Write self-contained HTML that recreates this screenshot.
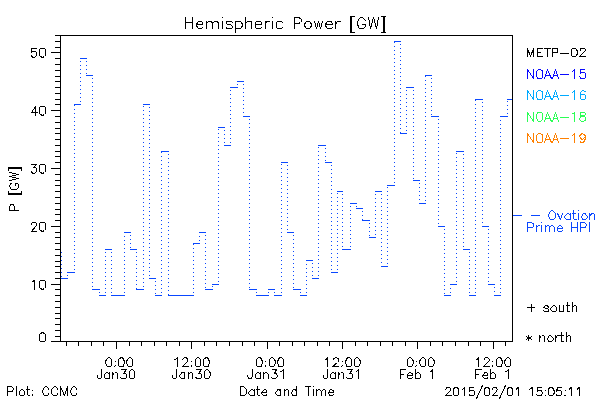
<!DOCTYPE html>
<html lang="en">
<head>
<meta charset="utf-8">
<title>Hemispheric Power [GW]</title>
<style>
html,body{margin:0;padding:0;background:#fff;}
body{width:600px;height:400px;overflow:hidden;font-family:"Liberation Sans",sans-serif;}
svg{display:block;}
.s{fill:none;stroke-width:1;stroke-linecap:butt;stroke-linejoin:miter;shape-rendering:crispEdges;}
.t{fill:none;stroke-width:1;stroke-linecap:square;stroke-linejoin:round;shape-rendering:crispEdges;}
</style>
</head>
<body>
<svg width="600" height="400" viewBox="0 0 600 400">
<rect width="600" height="400" fill="#ffffff"/>
<g id="series" class="s" stroke="#0a48ff"><title>Ovation Prime HPI hemispheric power, hourly steps</title>
<path stroke-dasharray="1 3" d="M61.5 252V278M67.5 276V273M74.5 270V105M80.5 102V59M86.5 61V75M92.5 78V289M99.5 292V295M105.5 293V250M111.5 252V295M124.5 293V233M130.5 235V249M136.5 252V289M143.5 287V105M149.5 107V278M155.5 281V295M161.5 293V152M168.5 154V295M193.5 293V244M199.5 241V233M205.5 235V289M212.5 287V285M218.5 282V128M224.5 130V145M230.5 143V88M237.5 85V82M243.5 84V116M249.5 119V289M256.5 292V295M268.5 293V290M274.5 292V295M281.5 293V163M287.5 165V232M293.5 235V289M300.5 292V295M306.5 293V261M312.5 263V278M318.5 276V146M325.5 148V162M331.5 165V272M337.5 270V192M342.5 194V249M350.5 247V204M356.5 206V208M362.5 211V220M369.5 223V237M375.5 235V192M381.5 194V266M387.5 264V186M394.5 183V42M400.5 44V133M406.5 131V88M413.5 90V180M419.5 183V203M425.5 201V76M431.5 78V116M438.5 119V226M444.5 229V295M450.5 293V285M456.5 282V152M463.5 154V249M469.5 252V295M475.5 293V100M482.5 102V226M488.5 229V284M494.5 287V295M500.5 293V117M507.5 114V100"/>
<path d="M61 278.5H68M67 272.5H75M74 104.5H81M80 58.5H87M86 75.5H93M92 289.5H100M99 295.5H106M105 249.5H112M111 295.5H118M117 295.5H125M124 232.5H131M130 249.5H137M136 289.5H144M143 104.5H150M149 278.5H156M155 295.5H162M161 151.5H169M168 295.5H175M174 295.5H181M180 295.5H188M187 295.5H194M193 243.5H200M199 232.5H206M205 289.5H213M212 284.5H219M218 127.5H225M224 145.5H231M230 87.5H238M237 81.5H244M243 116.5H250M249 289.5H257M256 295.5H263M262 295.5H269M268 289.5H275M274 295.5H282M281 162.5H288M287 232.5H294M293 289.5H301M300 295.5H307M306 260.5H313M312 278.5H319M318 145.5H326M325 162.5H332M331 272.5H338M337 191.5H343M342 249.5H351M350 203.5H357M356 208.5H363M362 220.5H370M369 237.5H376M375 191.5H382M381 266.5H388M387 185.5H395M394 41.5H401M400 133.5H407M406 87.5H414M413 180.5H420M419 203.5H426M425 75.5H432M431 116.5H439M438 226.5H445M444 295.5H451M450 284.5H457M456 151.5H464M463 249.5H470M469 295.5H476M475 99.5H483M482 226.5H489M488 284.5H495M494 295.5H501M500 116.5H508M507 99.5H513"/>
<path d="M513 215.5H522"/>
</g>
<g id="axes" class="s" stroke="#000"><path d="M51 341.5H513M60.5 35V342M55 35.5H513M512.5 35V342M55 336.5H60M55 330.5H60M55 324.5H60M55 318.5H60M55 313.5H60M55 307.5H60M55 301.5H60M55 295.5H60M55 289.5H60M51 284.5H60M55 278.5H60M55 272.5H60M55 266.5H60M55 261.5H60M55 255.5H60M55 249.5H60M55 243.5H60M55 237.5H60M55 232.5H60M51 226.5H60M55 220.5H60M55 214.5H60M55 209.5H60M55 203.5H60M55 197.5H60M55 191.5H60M55 185.5H60M55 180.5H60M55 174.5H60M51 168.5H60M55 162.5H60M55 156.5H60M55 151.5H60M55 145.5H60M55 139.5H60M55 133.5H60M55 128.5H60M55 122.5H60M55 116.5H60M51 110.5H60M55 104.5H60M55 99.5H60M55 93.5H60M55 87.5H60M55 81.5H60M55 76.5H60M55 70.5H60M55 64.5H60M55 58.5H60M51 52.5H60M55 47.5H60M55 41.5H60M66.5 342V346M78.5 342V346M91.5 342V346M103.5 342V346M116.5 342V349M129.5 342V346M141.5 342V346M154.5 342V346M166.5 342V346M179.5 342V346M191.5 342V349M204.5 342V346M216.5 342V346M229.5 342V346M242.5 342V346M254.5 342V346M267.5 342V349M279.5 342V346M292.5 342V346M304.5 342V346M317.5 342V346M329.5 342V346M342.5 342V349M355.5 342V346M367.5 342V346M380.5 342V346M392.5 342V346M405.5 342V346M417.5 342V349M430.5 342V346M442.5 342V346M455.5 342V346M468.5 342V346M480.5 342V346M493.5 342V349M505.5 342V346"/></g>
<g id="labels" class="t">
<g stroke="#000"><title>Hemispheric Power [GW]</title><path d="M185.5 17.5 185.5 28.5M192.5 17.5 192.5 28.5M185.5 22.5 192.5 22.5M196.5 24.5 202.5 24.5 202.5 23.5 202.5 22.5 201.5 21.5 200.5 21.5 199.5 21.5 198.5 21.5 197.5 22.5 196.5 24.5 196.5 25.5 197.5 27.5 198.5 28.5 199.5 28.5 200.5 28.5 201.5 28.5 202.5 27.5M206.5 21.5 206.5 28.5M206.5 23.5 208.5 21.5 209.5 21.5 210.5 21.5 211.5 21.5 212.5 23.5 212.5 28.5M212.5 23.5 214.5 21.5 215.5 21.5 216.5 21.5 217.5 21.5 218.5 23.5 218.5 28.5M222.5 17.5 222.51 17.5M222.5 21.5 222.5 28.5M232.5 22.5 231.5 21.5 229.5 21.5 228.5 21.5 226.5 21.5 226.5 22.5 226.5 23.5 227.5 24.5 230.5 24.5 231.5 25.5 232.5 26.5 232.5 27.5 231.5 28.5 229.5 28.5 228.5 28.5 226.5 28.5 226.5 27.5M235.5 21.5 235.5 32.5M235.5 22.5 236.5 21.5 237.5 21.5 239.5 21.5 240.5 21.5 241.5 22.5 242.5 24.5 242.5 25.5 241.5 27.5 240.5 28.5 239.5 28.5 237.5 28.5 236.5 28.5 235.5 27.5M245.5 17.5 245.5 28.5M245.5 23.5 247.5 21.5 248.5 21.5 250.5 21.5 251.5 21.5 251.5 23.5 251.5 28.5M255.5 24.5 261.5 24.5 261.5 23.5 261.5 22.5 260.5 21.5 259.5 21.5 258.5 21.5 256.5 21.5 255.5 22.5 255.5 24.5 255.5 25.5 255.5 27.5 256.5 28.5 258.5 28.5 259.5 28.5 260.5 28.5 261.5 27.5M265.5 21.5 265.5 28.5M265.5 24.5 265.5 22.5 267.5 21.5 268.5 21.5 269.5 21.5M272.5 17.5 272.51 17.5M272.5 21.5 272.5 28.5M282.5 22.5 281.5 21.5 280.5 21.5 278.5 21.5 277.5 21.5 276.5 22.5 276.5 24.5 276.5 25.5 276.5 27.5 277.5 28.5 278.5 28.5 280.5 28.5 281.5 28.5 282.5 27.5M294.5 17.5 294.5 28.5M294.5 17.5 298.5 17.5 300.5 18.5 301.5 19.5 301.5 21.5 300.5 22.5 298.5 23.5 294.5 23.5M307.5 21.5 306.5 21.5 305.5 22.5 304.5 24.5 304.5 25.5 305.5 27.5 306.5 28.5 307.5 28.5 308.5 28.5 309.5 28.5 310.5 27.5 311.5 25.5 311.5 24.5 310.5 22.5 309.5 21.5 308.5 21.5 307.5 21.5M314.5 21.5 316.5 28.5M318.5 21.5 316.5 28.5M318.5 21.5 320.5 28.5M322.5 21.5 320.5 28.5M325.5 24.5 332.5 24.5 332.5 23.5 331.5 22.5 331.5 21.5 330.5 21.5 328.5 21.5 327.5 21.5 326.5 22.5 325.5 24.5 325.5 25.5 326.5 27.5 327.5 28.5 328.5 28.5 330.5 28.5 331.5 28.5 332.5 27.5M335.5 21.5 335.5 28.5M335.5 24.5 336.5 22.5 337.5 21.5 338.5 21.5 340.5 21.5M350.5 16.5 350.5 32.5M351.5 16.5 351.5 32.5M350.5 16.5 354.5 16.5M350.5 32.5 354.5 32.5M365.5 20.5 364.5 19.5 363.5 18.5 362.5 17.5 360.5 17.5 359.5 18.5 358.5 19.5 358.5 20.5 357.5 21.5 357.5 24.5 358.5 26.5 358.5 27.5 359.5 28.5 360.5 28.5 362.5 28.5 363.5 28.5 364.5 27.5 365.5 26.5 365.5 24.5M362.5 24.5 365.5 24.5M368.5 17.5 370.5 28.5M373.5 17.5 370.5 28.5M373.5 17.5 376.5 28.5M378.5 17.5 376.5 28.5M384.5 16.5 384.5 32.5M383.5 16.5 383.5 32.5M381.5 16.5 385.5 16.5M381.5 32.5 385.5 32.5"/></g>
<g stroke="#000"><title>METP-02</title><path d="M527.5 48.5 527.5 56.5M527.5 48.5 530.5 56.5M533.5 48.5 530.5 56.5M533.5 48.5 533.5 56.5M537.5 48.5 537.5 56.5M537.5 48.5 542.5 48.5M537.5 52.5 540.5 52.5M537.5 56.5 542.5 56.5M547.5 48.5 547.5 56.5M544.5 48.5 550.5 48.5M552.5 48.5 552.5 56.5M552.5 48.5 555.5 48.5 557.5 48.5 557.5 49.5 557.5 51.5 557.5 52.5 555.5 52.5 552.5 52.5M560.5 53.5 568.5 53.5M573.5 48.5 572.5 48.5 571.5 49.5 571.5 51.5 571.5 53.5 571.5 55.5 572.5 56.5 573.5 56.5 574.5 56.5 575.5 56.5 576.5 55.5 577.5 53.5 577.5 51.5 576.5 49.5 575.5 48.5 574.5 48.5 573.5 48.5M580.5 50.5 580.5 49.5 580.5 48.5 581.5 48.5 583.5 48.5 584.5 48.5 585.5 49.5 585.5 50.5 584.5 51.5 583.5 52.5 579.5 56.5 585.5 56.5"/></g>
<g stroke="#0a0aff"><title>NOAA-15</title><path d="M527.5 69.5 527.5 78.5M527.5 69.5 533.5 78.5M533.5 69.5 533.5 78.5M538.5 69.5 537.5 70.5 536.5 71.5 536.5 72.5 536.5 75.5 536.5 76.5 537.5 77.5 537.5 78.5 538.5 78.5 540.5 78.5 541.5 78.5 542.5 77.5 542.5 76.5 542.5 75.5 542.5 72.5 542.5 71.5 542.5 70.5 541.5 70.5 540.5 69.5 538.5 69.5M547.5 69.5 544.5 78.5M547.5 69.5 551.5 78.5M545.5 75.5 550.5 75.5M555.5 69.5 552.5 78.5M555.5 69.5 558.5 78.5M553.5 75.5 557.5 75.5M560.5 74.5 568.5 74.5M572.5 71.5 573.5 70.5 574.5 69.5 574.5 78.5M584.5 69.5 580.5 69.5 580.5 73.5 580.5 72.5 581.5 72.5 583.5 72.5 584.5 72.5 585.5 73.5 585.5 75.5 585.5 77.5 584.5 78.5 583.5 78.5 581.5 78.5 580.5 78.5 580.5 77.5 579.5 76.5"/></g>
<g stroke="#00aaff"><title>NOAA-16</title><path d="M527.5 90.5 527.5 99.5M527.5 90.5 533.5 99.5M533.5 90.5 533.5 99.5M538.5 90.5 537.5 91.5 536.5 92.5 536.5 94.5 536.5 96.5 536.5 97.5 537.5 98.5 537.5 99.5 538.5 99.5 540.5 99.5 541.5 99.5 542.5 98.5 542.5 97.5 542.5 96.5 542.5 94.5 542.5 92.5 542.5 91.5 541.5 91.5 540.5 90.5 538.5 90.5M547.5 90.5 544.5 99.5M547.5 90.5 551.5 99.5M545.5 96.5 550.5 96.5M555.5 90.5 552.5 99.5M555.5 90.5 558.5 99.5M553.5 96.5 557.5 96.5M560.5 95.5 568.5 95.5M572.5 92.5 573.5 91.5 574.5 90.5 574.5 99.5M585.5 91.5 584.5 91.5 583.5 90.5 582.5 90.5 581.5 91.5 580.5 92.5 580.5 94.5 580.5 96.5 580.5 98.5 581.5 99.5 582.5 99.5 583.5 99.5 584.5 99.5 585.5 98.5 585.5 97.5 585.5 96.5 585.5 95.5 584.5 94.5 583.5 94.5 582.5 94.5 581.5 94.5 580.5 95.5 580.5 96.5"/></g>
<g stroke="#2bff55"><title>NOAA-18</title><path d="M527.5 112.5 527.5 121.5M527.5 112.5 533.5 121.5M533.5 112.5 533.5 121.5M538.5 112.5 537.5 112.5 537.5 113.5 536.5 114.5 536.5 115.5 536.5 117.5 536.5 118.5 537.5 119.5 537.5 120.5 538.5 121.5 540.5 121.5 541.5 120.5 542.5 119.5 542.5 118.5 542.5 117.5 542.5 115.5 542.5 114.5 542.5 113.5 541.5 112.5 540.5 112.5 538.5 112.5M547.5 112.5 544.5 121.5M547.5 112.5 551.5 121.5M545.5 118.5 550.5 118.5M555.5 112.5 552.5 121.5M555.5 112.5 558.5 121.5M553.5 118.5 557.5 118.5M560.5 117.5 568.5 117.5M572.5 113.5 573.5 113.5 574.5 112.5 574.5 121.5M581.5 112.5 580.5 112.5 580.5 113.5 580.5 114.5 580.5 115.5 581.5 115.5 583.5 116.5 584.5 116.5 585.5 117.5 585.5 118.5 585.5 119.5 585.5 120.5 584.5 120.5 583.5 121.5 581.5 121.5 580.5 120.5 579.5 119.5 579.5 118.5 580.5 117.5 580.5 116.5 582.5 116.5 583.5 115.5 584.5 115.5 585.5 114.5 585.5 113.5 584.5 112.5 583.5 112.5 581.5 112.5"/></g>
<g stroke="#ff8000"><title>NOAA-19</title><path d="M527.5 133.5 527.5 142.5M527.5 133.5 533.5 142.5M533.5 133.5 533.5 142.5M538.5 133.5 537.5 134.5 536.5 135.5 536.5 137.5 536.5 139.5 536.5 140.5 537.5 141.5 537.5 142.5 538.5 142.5 540.5 142.5 541.5 142.5 542.5 141.5 542.5 140.5 542.5 139.5 542.5 137.5 542.5 135.5 542.5 134.5 541.5 134.5 540.5 133.5 538.5 133.5M547.5 133.5 544.5 142.5M547.5 133.5 551.5 142.5M545.5 139.5 550.5 139.5M555.5 133.5 552.5 142.5M555.5 133.5 558.5 142.5M553.5 139.5 557.5 139.5M560.5 138.5 568.5 138.5M572.5 135.5 573.5 134.5 574.5 133.5 574.5 142.5M585.5 136.5 584.5 137.5 583.5 138.5 582.5 139.5 580.5 138.5 580.5 137.5 579.5 136.5 580.5 134.5 582.5 133.5 583.5 134.5 584.5 134.5 585.5 136.5 585.5 138.5 584.5 140.5 583.5 142.5 582.5 142.5 581.5 142.5 580.5 142.5 580.5 141.5"/></g>
<g stroke="#0a48ff"><title>- Ovation</title><path d="M531.5 215.5 539.5 215.5M551.5 210.5 550.5 211.5 549.5 212.5 549.5 213.5 548.5 214.5 548.5 216.5 549.5 217.5 549.5 218.5 550.5 219.5 551.5 219.5 552.5 219.5 553.5 219.5 554.5 218.5 555.5 217.5 555.5 216.5 555.5 214.5 555.5 213.5 554.5 212.5 553.5 211.5 552.5 210.5 551.5 210.5M557.5 213.5 560.5 219.5M562.5 213.5 560.5 219.5M570.5 213.5 570.5 219.5M570.5 215.5 569.5 214.5 568.5 213.5 567.5 213.5 566.5 214.5 565.5 215.5 564.5 216.5 564.5 217.5 565.5 218.5 566.5 219.5 567.5 219.5 568.5 219.5 569.5 219.5 570.5 218.5M573.5 210.5 573.5 218.5 574.5 219.5 575.5 219.5 576.5 219.5M572.5 213.5 575.5 213.5M578.5 210.5 578.51 210.5M578.5 213.5 578.5 219.5M583.5 213.5 582.5 214.5 582.5 215.5 581.5 216.5 581.5 217.5 582.5 218.5 582.5 219.5 583.5 219.5 585.5 219.5 586.5 218.5 587.5 217.5 587.5 216.5 586.5 215.5 585.5 214.5 585.5 213.5 583.5 213.5M589.5 213.5 589.5 219.5M589.5 215.5 591.5 214.5 591.5 213.5 593.5 213.5 594.5 214.5 594.5 215.5 594.5 219.5"/></g>
<g stroke="#0a48ff"><title>Prime HPI</title><path d="M527.5 222.5 527.5 231.5M527.5 222.5 531.5 222.5 532.5 223.5 533.5 223.5 533.5 224.5 533.5 225.5 533.5 226.5 532.5 227.5 531.5 227.5 527.5 227.5M536.5 225.5 536.5 231.5M536.5 228.5 536.5 227.5 537.5 226.5 538.5 225.5 539.5 225.5M541.5 222.5 541.51 222.5M541.5 225.5 541.5 231.5M545.5 225.5 545.5 231.5M545.5 227.5 546.5 226.5 547.5 225.5 548.5 225.5 549.5 226.5 549.5 227.5 549.5 231.5M549.5 227.5 550.5 226.5 551.5 225.5 552.5 225.5 553.5 226.5 554.5 227.5 554.5 231.5M557.5 228.5 562.5 228.5 562.5 227.5 561.5 226.5 560.5 225.5 559.5 225.5 558.5 226.5 557.5 227.5 557.5 228.5 557.5 229.5 557.5 230.5 558.5 231.5 559.5 231.5 560.5 231.5 561.5 231.5 562.5 230.5M571.5 222.5 571.5 231.5M577.5 222.5 577.5 231.5M571.5 227.5 577.5 227.5M580.5 222.5 580.5 231.5M580.5 222.5 584.5 222.5 585.5 223.5 586.5 224.5 586.5 225.5 585.5 226.5 585.5 227.5 584.5 227.5 580.5 227.5M589.5 222.5 589.5 231.5"/></g>
<g stroke="#000"><title>+ south</title><path d="M531.5 304.5 531.5 311.5M527.5 307.5 534.5 307.5M548.5 307.5 548.5 306.5 546.5 305.5 545.5 305.5 544.5 306.5 543.5 307.5 544.5 307.5 545.5 308.5 547.5 308.5 548.5 309.5 548.5 310.5 548.5 311.5 546.5 311.5 545.5 311.5 544.5 311.5 543.5 310.5M553.5 305.5 552.5 306.5 551.5 307.5 550.5 308.5 550.5 309.5 551.5 310.5 552.5 311.5 553.5 311.5 554.5 311.5 555.5 311.5 556.5 310.5 556.5 309.5 556.5 308.5 556.5 307.5 555.5 306.5 554.5 305.5 553.5 305.5M559.5 305.5 559.5 310.5 559.5 311.5 560.5 311.5 561.5 311.5 562.5 311.5 563.5 310.5M563.5 305.5 563.5 311.5M567.5 302.5 567.5 310.5 567.5 311.5 568.5 311.5 569.5 311.5M566.5 305.5 569.5 305.5M572.5 302.5 572.5 311.5M572.5 307.5 573.5 306.5 574.5 305.5 575.5 305.5 576.5 306.5 576.5 307.5 576.5 311.5"/></g>
<g stroke="#000"><title>* north</title><path d="M528.5 335.5 528.5 340.5M526.5 336.5 531.5 339.5M526.5 339.5 531.5 336.5M539.5 335.5 539.5 341.5M539.5 337.5 541.5 336.5 542.5 335.5 543.5 335.5 544.5 336.5 544.5 337.5 544.5 341.5M549.5 335.5 548.5 336.5 548.5 337.5 547.5 338.5 547.5 339.5 548.5 340.5 548.5 341.5 549.5 341.5 550.5 341.5 551.5 341.5 552.5 340.5 553.5 339.5 553.5 338.5 552.5 337.5 551.5 336.5 550.5 335.5 549.5 335.5M555.5 335.5 555.5 341.5M555.5 338.5 556.5 337.5 556.5 336.5 557.5 335.5 559.5 335.5M561.5 332.5 561.5 340.5 561.5 341.5 562.5 341.5 563.5 341.5M560.5 335.5 563.5 335.5M566.5 332.5 566.5 341.5M566.5 337.5 567.5 336.5 568.5 335.5 569.5 335.5 570.5 336.5 570.5 337.5 570.5 341.5"/></g>
<g stroke="#000"><title>0</title><path d="M42.5 332.5 40.5 333.5 39.5 334.5 39.5 336.5 39.5 337.5 39.5 340.5 40.5 341.5 42.5 341.5 44.5 341.5 45.5 340.5 45.5 337.5 45.5 336.5 45.5 334.5 44.5 333.5 42.5 332.5"/></g>
<g stroke="#000"><title>10</title><path d="M32.5 281.5 34.5 280.5 34.5 289.5M42.5 280.5 40.5 280.5 39.5 281.5 39.5 284.5 39.5 285.5 39.5 287.5 40.5 288.5 42.5 289.5 44.5 288.5 45.5 287.5 45.5 285.5 45.5 284.5 45.5 281.5 44.5 280.5 42.5 280.5"/></g>
<g stroke="#000"><title>20</title><path d="M31.5 224.5 31.5 223.5 32.5 222.5 33.5 222.5 34.5 222.5 35.5 222.5 36.5 223.5 36.5 224.5 36.5 225.5 35.5 226.5 31.5 231.5 36.5 231.5M42.5 222.5 40.5 222.5 39.5 223.5 39.5 226.5 39.5 227.5 39.5 229.5 40.5 230.5 42.5 231.5 44.5 230.5 45.5 229.5 45.5 227.5 45.5 226.5 45.5 223.5 44.5 222.5 42.5 222.5"/></g>
<g stroke="#000"><title>30</title><path d="M31.5 164.5 36.5 164.5 33.5 167.5 35.5 167.5 36.5 168.5 36.5 169.5 36.5 170.5 36.5 171.5 35.5 172.5 34.5 173.5 33.5 173.5 31.5 172.5 31.5 171.5M42.5 164.5 40.5 164.5 39.5 165.5 39.5 168.5 39.5 169.5 39.5 171.5 40.5 172.5 42.5 173.5 44.5 172.5 45.5 171.5 45.5 169.5 45.5 168.5 45.5 165.5 44.5 164.5 42.5 164.5"/></g>
<g stroke="#000"><title>40</title><path d="M35.5 106.5 31.5 112.5 37.5 112.5M35.5 106.5 35.5 115.5M42.5 106.5 40.5 106.5 39.5 107.5 39.5 110.5 39.5 111.5 39.5 113.5 40.5 114.5 42.5 115.5 44.5 114.5 45.5 113.5 45.5 111.5 45.5 110.5 45.5 107.5 44.5 106.5 42.5 106.5"/></g>
<g stroke="#000"><title>50</title><path d="M36.5 48.5 31.5 48.5 31.5 52.5 31.5 51.5 33.5 51.5 34.5 51.5 35.5 51.5 36.5 52.5 36.5 53.5 36.5 54.5 36.5 55.5 35.5 56.5 34.5 57.5 33.5 57.5 31.5 56.5 31.5 55.5M42.5 48.5 40.5 48.5 39.5 49.5 39.5 52.5 39.5 53.5 39.5 55.5 40.5 56.5 42.5 57.5 44.5 56.5 45.5 55.5 45.5 53.5 45.5 52.5 45.5 49.5 44.5 48.5 42.5 48.5"/></g>
<g stroke="#000"><title>P [GW]</title><path d="M9.5 210.5 18.5 210.5M9.5 210.5 9.5 206.5 10.5 205.5 10.5 204.5 11.5 204.5 12.5 204.5 13.5 204.5 13.5 205.5 14.5 206.5 14.5 210.5M8.5 194.5 21.5 194.5M8.5 193.5 21.5 193.5M8.5 194.5 8.5 191.5M21.5 194.5 21.5 191.5M11.5 183.5 10.5 183.5 10.5 184.5 9.5 185.5 9.5 186.5 10.5 187.5 10.5 188.5 11.5 189.5 12.5 189.5 15.5 189.5 16.5 189.5 17.5 188.5 18.5 187.5 18.5 186.5 18.5 185.5 18.5 184.5 17.5 183.5 16.5 183.5 15.5 183.5M15.5 185.5 15.5 183.5M9.5 180.5 18.5 178.5M9.5 176.5 18.5 178.5M9.5 176.5 18.5 174.5M9.5 172.5 18.5 174.5M8.5 167.5 21.5 167.5M8.5 168.5 21.5 168.5M8.5 170.5 8.5 167.5M21.5 170.5 21.5 167.5"/></g>
<g stroke="#000"><title>0:00</title><path d="M108.5 357.5 107.5 358.5 106.5 359.5 105.5 361.5 105.5 362.5 106.5 365.5 107.5 366.5 108.5 366.5 109.5 366.5 110.5 366.5 111.5 365.5 111.5 362.5 111.5 361.5 111.5 359.5 110.5 358.5 109.5 357.5 108.5 357.5M115.5 361.5 115.51 361.5M115.5 365.5 115.51 365.5M114.5 366.5 114.51 366.5M121.5 357.5 119.5 358.5 118.5 359.5 118.5 361.5 118.5 362.5 118.5 365.5 119.5 366.5 121.5 366.5 123.5 366.5 123.5 365.5 124.5 362.5 124.5 361.5 123.5 359.5 123.5 358.5 121.5 357.5M129.5 357.5 128.5 358.5 127.5 359.5 126.5 361.5 126.5 362.5 127.5 365.5 128.5 366.5 129.5 366.5 130.5 366.5 131.5 366.5 132.5 365.5 132.5 362.5 132.5 361.5 132.5 359.5 131.5 358.5 130.5 357.5 129.5 357.5"/></g>
<g stroke="#000"><title>Jan30</title><path d="M101.5 369.5 101.5 376.5 101.5 377.5 100.5 378.5 99.5 378.5 98.5 378.5 97.5 377.5 97.5 376.5 97.5 375.5M109.5 372.5 109.5 378.5M109.5 374.5 108.5 373.5 107.5 372.5 106.5 372.5 105.5 373.5 104.5 374.5 104.5 375.5 104.5 376.5 104.5 377.5 105.5 378.5 106.5 378.5 107.5 378.5 108.5 378.5 109.5 377.5M112.5 372.5 112.5 378.5M112.5 374.5 114.5 373.5 115.5 372.5 116.5 372.5 117.5 373.5 117.5 374.5 117.5 378.5M121.5 369.5 126.5 369.5 123.5 373.5 124.5 373.5 125.5 373.5 126.5 374.5 126.5 375.5 126.5 376.5 126.5 377.5 125.5 378.5 123.5 378.5 122.5 378.5 121.5 378.5 120.5 377.5M131.5 369.5 130.5 370.5 129.5 371.5 129.5 373.5 129.5 374.5 129.5 377.5 130.5 378.5 131.5 378.5 132.5 378.5 133.5 378.5 134.5 377.5 134.5 374.5 134.5 373.5 134.5 371.5 133.5 370.5 132.5 369.5 131.5 369.5"/></g>
<g stroke="#000"><title>12:00</title><path d="M174.5 359.5 175.5 359.5 177.5 357.5 177.5 366.5M182.5 359.5 183.5 358.5 184.5 357.5 186.5 357.5 186.5 358.5 187.5 358.5 187.5 359.5 187.5 360.5 187.5 361.5 186.5 362.5 182.5 366.5 188.5 366.5M191.5 361.5 191.51 361.5M191.5 365.5 191.51 365.5M191.5 366.5 191.51 366.5M197.5 357.5 196.5 358.5 195.5 359.5 195.5 361.5 195.5 362.5 195.5 365.5 196.5 366.5 197.5 366.5 198.5 366.5 199.5 366.5 200.5 365.5 200.5 362.5 200.5 361.5 200.5 359.5 199.5 358.5 198.5 357.5 197.5 357.5M206.5 357.5 204.5 358.5 203.5 359.5 203.5 361.5 203.5 362.5 203.5 365.5 204.5 366.5 206.5 366.5 208.5 366.5 208.5 365.5 209.5 362.5 209.5 361.5 208.5 359.5 208.5 358.5 206.5 357.5"/></g>
<g stroke="#000"><title>Jan30</title><path d="M176.5 369.5 176.5 376.5 176.5 377.5 175.5 378.5 174.5 378.5 173.5 378.5 172.5 377.5 172.5 376.5 172.5 375.5M184.5 372.5 184.5 378.5M184.5 374.5 184.5 373.5 183.5 372.5 181.5 372.5 181.5 373.5 180.5 374.5 179.5 375.5 179.5 376.5 180.5 377.5 181.5 378.5 183.5 378.5 184.5 378.5 184.5 377.5M188.5 372.5 188.5 378.5M188.5 374.5 189.5 373.5 190.5 372.5 191.5 372.5 192.5 373.5 192.5 374.5 192.5 378.5M196.5 369.5 201.5 369.5 198.5 373.5 200.5 373.5 201.5 374.5 201.5 375.5 201.5 376.5 201.5 377.5 200.5 378.5 199.5 378.5 197.5 378.5 196.5 378.5 196.5 377.5 195.5 377.5M206.5 369.5 205.5 370.5 204.5 371.5 204.5 373.5 204.5 374.5 204.5 377.5 205.5 378.5 206.5 378.5 207.5 378.5 208.5 378.5 209.5 377.5 210.5 374.5 210.5 373.5 209.5 371.5 208.5 370.5 207.5 369.5 206.5 369.5"/></g>
<g stroke="#000"><title>0:00</title><path d="M258.5 357.5 257.5 358.5 256.5 359.5 256.5 361.5 256.5 362.5 256.5 365.5 257.5 366.5 258.5 366.5 259.5 366.5 261.5 366.5 261.5 365.5 262.5 362.5 262.5 361.5 261.5 359.5 261.5 358.5 259.5 357.5 258.5 357.5M265.5 361.5 265.51 361.5M265.5 365.5 265.51 365.5M265.5 366.5 265.51 366.5M271.5 357.5 270.5 358.5 269.5 359.5 269.5 361.5 269.5 362.5 269.5 365.5 270.5 366.5 271.5 366.5 272.5 366.5 273.5 366.5 274.5 365.5 275.5 362.5 275.5 361.5 274.5 359.5 273.5 358.5 272.5 357.5 271.5 357.5M280.5 357.5 278.5 358.5 278.5 359.5 277.5 361.5 277.5 362.5 278.5 365.5 278.5 366.5 280.5 366.5 281.5 366.5 282.5 366.5 283.5 365.5 283.5 362.5 283.5 361.5 283.5 359.5 282.5 358.5 281.5 357.5 280.5 357.5"/></g>
<g stroke="#000"><title>Jan31</title><path d="M252.5 369.5 252.5 376.5 251.5 377.5 251.5 378.5 250.5 378.5 249.5 378.5 248.5 378.5 248.5 377.5 247.5 376.5 247.5 375.5M260.5 372.5 260.5 378.5M260.5 374.5 259.5 373.5 258.5 372.5 257.5 372.5 256.5 373.5 255.5 374.5 255.5 375.5 255.5 376.5 255.5 377.5 256.5 378.5 257.5 378.5 258.5 378.5 259.5 378.5 260.5 377.5M263.5 372.5 263.5 378.5M263.5 374.5 264.5 373.5 265.5 372.5 266.5 372.5 267.5 373.5 268.5 374.5 268.5 378.5M272.5 369.5 276.5 369.5 274.5 373.5 275.5 373.5 276.5 373.5 276.5 374.5 277.5 375.5 277.5 376.5 276.5 377.5 275.5 378.5 274.5 378.5 273.5 378.5 272.5 378.5 271.5 377.5M280.5 371.5 281.5 371.5 283.5 369.5 283.5 378.5"/></g>
<g stroke="#000"><title>12:00</title><path d="M325.5 359.5 326.5 359.5 327.5 357.5 327.5 366.5M333.5 359.5 333.5 358.5 334.5 358.5 335.5 357.5 336.5 357.5 337.5 358.5 338.5 358.5 338.5 359.5 338.5 360.5 338.5 361.5 337.5 362.5 332.5 366.5 338.5 366.5M342.5 361.5 342.51 361.5M342.5 365.5 342.51 365.5M341.5 366.5 341.51 366.5M348.5 357.5 346.5 358.5 346.5 359.5 345.5 361.5 345.5 362.5 346.5 365.5 346.5 366.5 348.5 366.5 349.5 366.5 350.5 366.5 351.5 365.5 351.5 362.5 351.5 361.5 351.5 359.5 350.5 358.5 349.5 357.5 348.5 357.5M356.5 357.5 355.5 358.5 354.5 359.5 354.5 361.5 354.5 362.5 354.5 365.5 355.5 366.5 356.5 366.5 357.5 366.5 358.5 366.5 359.5 365.5 360.5 362.5 360.5 361.5 359.5 359.5 358.5 358.5 357.5 357.5 356.5 357.5"/></g>
<g stroke="#000"><title>Jan31</title><path d="M327.5 369.5 327.5 376.5 327.5 377.5 326.5 378.5 325.5 378.5 324.5 378.5 323.5 377.5 323.5 376.5 323.5 375.5M335.5 372.5 335.5 378.5M335.5 374.5 334.5 373.5 333.5 372.5 332.5 372.5 331.5 373.5 330.5 374.5 330.5 375.5 330.5 376.5 330.5 377.5 331.5 378.5 332.5 378.5 333.5 378.5 334.5 378.5 335.5 377.5M338.5 372.5 338.5 378.5M338.5 374.5 340.5 373.5 341.5 372.5 342.5 372.5 343.5 373.5 343.5 374.5 343.5 378.5M347.5 369.5 352.5 369.5 349.5 373.5 350.5 373.5 351.5 373.5 352.5 374.5 352.5 375.5 352.5 376.5 352.5 377.5 351.5 378.5 349.5 378.5 348.5 378.5 347.5 378.5 346.5 377.5M356.5 371.5 358.5 369.5 358.5 378.5"/></g>
<g stroke="#000"><title>0:00</title><path d="M409.5 357.5 408.5 358.5 407.5 359.5 407.5 361.5 407.5 362.5 407.5 365.5 408.5 366.5 409.5 366.5 410.5 366.5 411.5 366.5 412.5 365.5 413.5 362.5 413.5 361.5 412.5 359.5 411.5 358.5 410.5 357.5 409.5 357.5M416.5 361.5 416.51 361.5M416.5 365.5 416.51 365.5M415.5 366.5 415.51 366.5M422.5 357.5 421.5 358.5 420.5 359.5 419.5 361.5 419.5 362.5 420.5 365.5 421.5 366.5 422.5 366.5 423.5 366.5 424.5 366.5 425.5 365.5 425.5 362.5 425.5 361.5 425.5 359.5 424.5 358.5 423.5 357.5 422.5 357.5M430.5 357.5 429.5 358.5 428.5 359.5 428.5 361.5 428.5 362.5 428.5 365.5 429.5 366.5 430.5 366.5 431.5 366.5 432.5 366.5 433.5 365.5 434.5 362.5 434.5 361.5 433.5 359.5 432.5 358.5 431.5 357.5 430.5 357.5"/></g>
<g stroke="#000"><title>Feb 1</title><path d="M400.5 369.5 400.5 378.5M400.5 369.5 405.5 369.5M400.5 374.5 403.5 374.5M407.5 375.5 412.5 375.5 412.5 374.5 412.5 373.5 411.5 373.5 410.5 372.5 409.5 372.5 408.5 373.5 407.5 374.5 407.5 375.5 407.5 376.5 407.5 377.5 408.5 378.5 409.5 378.5 410.5 378.5 411.5 378.5 412.5 377.5M415.5 369.5 415.5 378.5M415.5 374.5 416.5 373.5 417.5 372.5 418.5 372.5 419.5 373.5 420.5 374.5 420.5 375.5 420.5 376.5 420.5 377.5 419.5 378.5 418.5 378.5 417.5 378.5 416.5 378.5 415.5 377.5M430.5 371.5 431.5 371.5 432.5 369.5 432.5 378.5"/></g>
<g stroke="#000"><title>12:00</title><path d="M476.5 359.5 477.5 359.5 478.5 357.5 478.5 366.5M484.5 359.5 484.5 358.5 485.5 357.5 487.5 357.5 488.5 358.5 489.5 359.5 489.5 360.5 488.5 361.5 487.5 362.5 483.5 366.5 489.5 366.5M492.5 361.5 492.51 361.5M492.5 365.5 492.51 365.5M492.5 366.5 492.51 366.5M498.5 357.5 497.5 358.5 496.5 359.5 496.5 361.5 496.5 362.5 496.5 365.5 497.5 366.5 498.5 366.5 499.5 366.5 501.5 366.5 501.5 365.5 502.5 362.5 502.5 361.5 501.5 359.5 501.5 358.5 499.5 357.5 498.5 357.5M507.5 357.5 506.5 358.5 505.5 359.5 504.5 361.5 504.5 362.5 505.5 365.5 506.5 366.5 507.5 366.5 508.5 366.5 509.5 366.5 510.5 365.5 510.5 362.5 510.5 361.5 510.5 359.5 509.5 358.5 508.5 357.5 507.5 357.5"/></g>
<g stroke="#000"><title>Feb 1</title><path d="M475.5 369.5 475.5 378.5M475.5 369.5 481.5 369.5M475.5 374.5 478.5 374.5M482.5 375.5 487.5 375.5 487.5 374.5 487.5 373.5 486.5 372.5 484.5 372.5 484.5 373.5 483.5 374.5 482.5 375.5 482.5 376.5 483.5 377.5 484.5 378.5 486.5 378.5 487.5 378.5 487.5 377.5M490.5 369.5 490.5 378.5M490.5 374.5 491.5 373.5 492.5 372.5 493.5 372.5 494.5 373.5 495.5 374.5 495.5 375.5 495.5 376.5 495.5 377.5 494.5 378.5 493.5 378.5 492.5 378.5 491.5 378.5 490.5 377.5M505.5 371.5 506.5 371.5 508.5 369.5 508.5 378.5"/></g>
<g stroke="#000"><title>Plot: CCMC</title><path d="M7.5 386.5 7.5 395.5M7.5 386.5 11.5 386.5 12.5 387.5 13.5 388.5 13.5 389.5 12.5 390.5 12.5 391.5 11.5 391.5 7.5 391.5M16.5 386.5 16.5 395.5M21.5 389.5 20.5 390.5 19.5 391.5 19.5 392.5 19.5 393.5 19.5 394.5 20.5 395.5 21.5 395.5 22.5 395.5 23.5 395.5 24.5 394.5 24.5 393.5 24.5 392.5 24.5 391.5 23.5 390.5 22.5 389.5 21.5 389.5M27.5 386.5 27.5 394.5 28.5 395.5 29.5 395.5M26.5 389.5 29.5 389.5M32.5 390.5 32.51 390.5M32.5 394.5 32.51 394.5M32.5 395.5 32.51 395.5M48.5 389.5 48.5 388.5 47.5 387.5 46.5 386.5 45.5 386.5 44.5 387.5 43.5 388.5 43.5 389.5 42.5 390.5 42.5 392.5 43.5 393.5 43.5 394.5 44.5 395.5 45.5 395.5 46.5 395.5 47.5 395.5 48.5 394.5 48.5 393.5M57.5 389.5 57.5 388.5 56.5 387.5 55.5 386.5 54.5 386.5 53.5 387.5 52.5 388.5 51.5 389.5 51.5 390.5 51.5 392.5 51.5 393.5 52.5 394.5 53.5 395.5 54.5 395.5 55.5 395.5 56.5 395.5 57.5 394.5 57.5 393.5M60.5 386.5 60.5 395.5M60.5 386.5 64.5 395.5M67.5 386.5 64.5 395.5M67.5 386.5 67.5 395.5M76.5 389.5 76.5 388.5 75.5 387.5 74.5 386.5 73.5 386.5 72.5 387.5 71.5 388.5 71.5 389.5 70.5 390.5 70.5 392.5 71.5 393.5 71.5 394.5 72.5 395.5 73.5 395.5 74.5 395.5 75.5 395.5 76.5 394.5 76.5 393.5"/></g>
<g stroke="#000"><title>Date and Time</title><path d="M240.5 386.5 240.5 395.5M240.5 386.5 243.5 386.5 244.5 387.5 245.5 388.5 246.5 389.5 246.5 390.5 246.5 392.5 246.5 393.5 245.5 394.5 244.5 395.5 243.5 395.5 240.5 395.5M254.5 389.5 254.5 395.5M254.5 391.5 253.5 390.5 252.5 389.5 251.5 389.5 250.5 390.5 249.5 391.5 248.5 392.5 248.5 393.5 249.5 394.5 250.5 395.5 251.5 395.5 252.5 395.5 253.5 395.5 254.5 394.5M257.5 386.5 257.5 394.5 258.5 395.5 259.5 395.5M256.5 389.5 259.5 389.5M261.5 392.5 266.5 392.5 266.5 391.5 266.5 390.5 265.5 389.5 264.5 389.5 263.5 390.5 262.5 391.5 261.5 392.5 261.5 393.5 262.5 394.5 263.5 395.5 264.5 395.5 265.5 395.5 266.5 395.5 266.5 394.5M280.5 389.5 280.5 395.5M280.5 391.5 279.5 390.5 279.5 389.5 277.5 389.5 277.5 390.5 276.5 391.5 275.5 392.5 275.5 393.5 276.5 394.5 277.5 395.5 279.5 395.5 280.5 394.5M284.5 389.5 284.5 395.5M284.5 391.5 285.5 390.5 286.5 389.5 287.5 389.5 288.5 390.5 288.5 391.5 288.5 395.5M296.5 386.5 296.5 395.5M296.5 391.5 295.5 390.5 295.5 389.5 293.5 389.5 292.5 390.5 292.5 391.5 291.5 392.5 291.5 393.5 292.5 394.5 292.5 395.5 293.5 395.5 295.5 395.5 296.5 394.5M308.5 386.5 308.5 395.5M305.5 386.5 310.5 386.5M313.5 386.5 313.51 386.5M313.5 389.5 313.5 395.5M316.5 389.5 316.5 395.5M316.5 391.5 317.5 390.5 318.5 389.5 319.5 389.5 320.5 390.5 321.5 391.5 321.5 395.5M321.5 391.5 322.5 390.5 323.5 389.5 324.5 389.5 325.5 390.5 325.5 391.5 325.5 395.5M328.5 392.5 333.5 392.5 333.5 391.5 333.5 390.5 332.5 390.5 331.5 389.5 330.5 389.5 329.5 390.5 329.5 391.5 328.5 392.5 328.5 393.5 329.5 394.5 329.5 395.5 330.5 395.5 331.5 395.5 332.5 395.5 333.5 394.5"/></g>
<g stroke="#000"><title>2015/02/01 15:05:11</title><path d="M445.5 389.5 446.5 388.5 446.5 387.5 447.5 387.5 449.5 387.5 450.5 388.5 450.5 389.5 450.5 390.5 449.5 391.5 445.5 395.5 451.5 395.5M455.5 387.5 454.5 387.5 453.5 389.5 453.5 391.5 453.5 392.5 453.5 394.5 454.5 395.5 455.5 395.5 456.5 395.5 457.5 395.5 458.5 394.5 458.5 392.5 458.5 391.5 458.5 389.5 457.5 387.5 456.5 387.5 455.5 387.5M462.5 389.5 463.5 388.5 464.5 387.5 464.5 395.5M473.5 387.5 469.5 387.5 469.5 391.5 469.5 390.5 471.5 390.5 472.5 390.5 473.5 390.5 474.5 391.5 474.5 392.5 474.5 393.5 474.5 394.5 473.5 395.5 472.5 395.5 471.5 395.5 469.5 395.5 469.5 394.5M482.5 385.5 476.5 398.5M486.5 387.5 485.5 387.5 484.5 389.5 484.5 391.5 484.5 392.5 484.5 394.5 485.5 395.5 486.5 395.5 487.5 395.5 488.5 395.5 489.5 394.5 489.5 392.5 489.5 391.5 489.5 389.5 488.5 387.5 487.5 387.5 486.5 387.5M492.5 389.5 492.5 388.5 493.5 387.5 494.5 387.5 495.5 387.5 496.5 387.5 496.5 388.5 497.5 389.5 496.5 390.5 496.5 391.5 492.5 395.5 497.5 395.5M505.5 385.5 499.5 398.5M509.5 387.5 508.5 387.5 507.5 389.5 507.5 391.5 507.5 392.5 507.5 394.5 508.5 395.5 509.5 395.5 510.5 395.5 511.5 395.5 512.5 394.5 512.5 392.5 512.5 391.5 512.5 389.5 511.5 387.5 510.5 387.5 509.5 387.5M516.5 389.5 516.5 388.5 518.5 387.5 518.5 395.5M529.5 389.5 530.5 388.5 532.5 387.5 532.5 395.5M541.5 387.5 537.5 387.5 537.5 391.5 537.5 390.5 538.5 390.5 539.5 390.5 541.5 390.5 541.5 391.5 542.5 392.5 542.5 393.5 541.5 394.5 541.5 395.5 539.5 395.5 538.5 395.5 537.5 395.5 536.5 394.5M545.5 390.5 545.51 390.5M545.5 395.5 545.51 395.5M545.5 395.5 545.51 395.5M550.5 387.5 549.5 387.5 548.5 389.5 548.5 391.5 548.5 392.5 548.5 394.5 549.5 395.5 550.5 395.5 551.5 395.5 552.5 395.5 553.5 394.5 554.5 392.5 554.5 391.5 553.5 389.5 552.5 387.5 551.5 387.5 550.5 387.5M561.5 387.5 557.5 387.5 556.5 391.5 557.5 390.5 558.5 390.5 559.5 390.5 560.5 390.5 561.5 391.5 561.5 392.5 561.5 393.5 561.5 394.5 560.5 395.5 559.5 395.5 558.5 395.5 557.5 395.5 556.5 395.5 556.5 394.5M565.5 390.5 565.51 390.5M565.5 395.5 565.51 395.5M564.5 395.5 564.51 395.5M569.5 389.5 569.5 388.5 571.5 387.5 571.5 395.5M577.5 389.5 577.5 388.5 579.5 387.5 579.5 395.5"/></g>
</g>
</svg>
</body>
</html>
